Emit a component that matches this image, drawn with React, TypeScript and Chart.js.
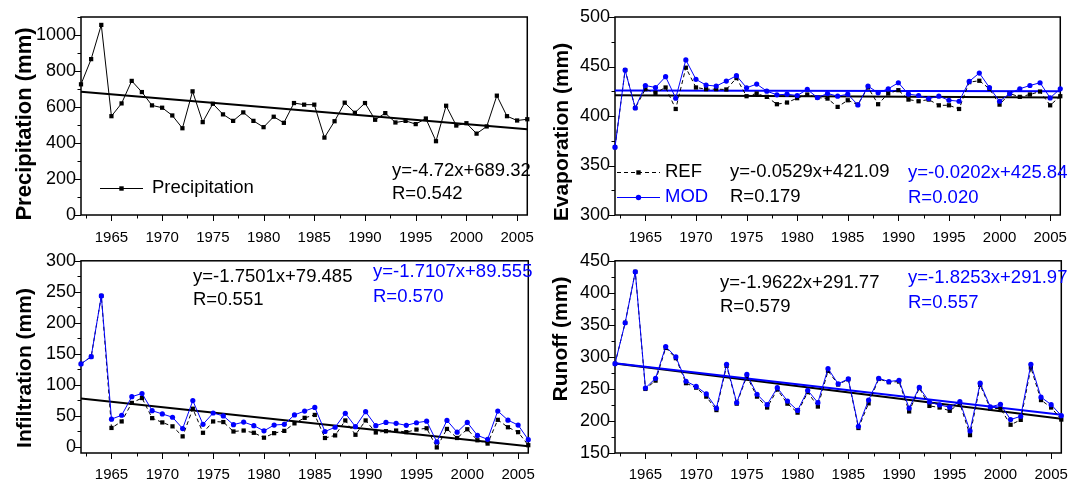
import React, { useEffect, useRef } from 'react';
import { Chart, registerables } from 'chart.js';
Chart.register(...registerables);

const BLUE = '#0000FF';
const FONT = '"Liberation Sans", Arial, sans-serif';

const years = [1962, 1963, 1964, 1965, 1966, 1967, 1968, 1969, 1970, 1971, 1972, 1973, 1974, 1975, 1976,
  1977, 1978, 1979, 1980, 1981, 1982, 1983, 1984, 1985, 1986, 1987, 1988, 1989, 1990, 1991, 1992, 1993,
  1994, 1995, 1996, 1997, 1998, 1999, 2000, 2001, 2002, 2003, 2004, 2005, 2006];

const xMajor = [1965, 1970, 1975, 1980, 1985, 1990, 1995, 2000, 2005];
const xMinor = [1962.5, 1967.5, 1972.5, 1977.5, 1982.5, 1987.5, 1992.5, 1997.5, 2002.5];

const precipitation = [726, 866, 1056, 549, 620, 745, 683, 609, 596, 553,
  482, 687, 516, 618, 559, 523, 570, 523, 488, 546,
  512, 622, 613, 613, 430, 521, 624, 568, 622, 529,
  566, 514, 523, 505, 536, 410, 607, 497, 510, 452,
  492, 663, 549, 525, 532];

const evapMOD = [368.5, 446.4, 408.1, 430.8, 428.8, 439.7, 418, 456.6, 437, 431.2,
  430.2, 435.3, 440.7, 428.5, 432.2, 425.1, 421.4, 422, 420.7, 426.8,
  418.6, 422.7, 420, 422, 411.2, 430.2, 423.4, 427.5, 433.6, 422,
  420.7, 417.6, 420, 415.9, 414.9, 434.9, 443.4, 428.8, 414.9, 422.7,
  427.5, 430.8, 433.6, 418.3, 427.5];
const evapREF = [368.5, 446.4, 408.1, 427.1, 423.4, 428.8, 407.1, 448.8, 428.8, 427.1,
  427.1, 426.8, 438.3, 420, 422.7, 419.3, 411.9, 413.6, 418, 421.7,
  418.6, 417.6, 409.2, 415.9, 411.5, 428.8, 411.9, 422.7, 426.1, 416.6,
  414.9, 416.6, 410.8, 410.8, 407.1, 434.2, 435.6, 427.5, 411.5, 422.7,
  419.3, 421.7, 424.7, 410.8, 420];

const infMOD = [133.7, 145.3, 243.4, 44.6, 50.9, 80.8, 86, 58.2, 53, 47.7,
  29.4, 74.5, 36.2, 54.5, 49.8, 35.7, 39.9, 34.1, 25.7, 35.1,
  36.2, 51.4, 57.7, 63.5, 24.7, 31.5, 54, 32.5, 56.6, 34.1,
  39.3, 37.8, 34.6, 38.8, 41.4, 7.9, 42.5, 23.6, 39.3, 18.4,
  12.1, 57.7, 43, 35.1, 11.5];
const infREF = [133.7, 145.3, 243.4, 30.4, 40.9, 70.8, 78.7, 46.2, 39.3, 33,
  16.8, 61.4, 22.6, 40.9, 39.9, 24.7, 26.2, 22.6, 14.7, 22,
  25.7, 37.8, 46.7, 51.4, 14.2, 18.4, 42.5, 19.4, 42.5, 23.1,
  25.2, 26.2, 23.6, 27.8, 29.9, -1, 28.8, 14.2, 28.3, 10.5,
  5.2, 43.5, 31.5, 23.6, 2.6];

const runMOD = [289.4, 353.2, 432.8, 251.4, 266.6, 316.2, 300, 262, 253.9, 242.2,
  219.9, 288.4, 228.6, 272.6, 241.7, 225.5, 251.9, 231.1, 216.4, 247.8,
  228.6, 281.8, 258, 265.6, 191.6, 232.6, 266.6, 261.5, 263.5, 219.9,
  252.4, 229.6, 225, 221.5, 230.1, 184.5, 259, 222, 226, 202.2,
  207.3, 288.4, 237.2, 225.5, 208.3];
const runREF = [289.4, 353.2, 432.8, 250, 263, 314, 298, 259, 252, 238,
  217, 286, 227, 270, 238, 221, 249, 227, 213, 245,
  222.5, 278.2, 256.9, 265, 189, 227.5, 265.6, 260.5, 261.5, 214.9,
  251.4, 223.5, 221, 215.9, 227.5, 177.9, 256.4, 219.4, 219.4, 194.1,
  201.7, 283.3, 232.6, 221, 202.2];

// regression coefficients [slope, intercept], x = year - 1961
const precipFit = [-4.72, 689.32];
const evapRefFit = [-0.0529, 421.09];
const evapModFit = [-0.0202, 425.84];
const infRefFit = [-1.7501, 79.485];
const runRefFit = [-1.9622, 291.77];
const runModFit = [-1.8253, 291.97];

const pts = (vals: number[]) => years.map((y, i) => ({ x: y, y: vals[i] }));
const fitLine = (c: number[]) => [years[0], years[years.length - 1]].map((y) => ({ x: y, y: c[0] * (y - 1961) + c[1] }));

const refDs = (vals: number[]) => ({
  data: pts(vals), borderColor: '#000', backgroundColor: '#000', borderWidth: 1, borderDash: [4, 3],
  pointStyle: 'rect', pointRadius: 3, pointBorderWidth: 0, clip: false,
});
const modDs = (vals: number[]) => ({
  data: pts(vals), borderColor: BLUE, backgroundColor: BLUE, borderWidth: 1,
  pointStyle: 'circle', pointRadius: 2.6, pointBorderWidth: 0, clip: false,
});
const fitDs = (c: number[], color: string) => ({
  data: fitLine(c), borderColor: color, borderWidth: 2, pointRadius: 0, clip: false,
});

type Txt = { text: string; x: number; y: number; color: string };
type Leg = { label: string; color: string; dash: number[]; style: string; y: number; x0: number; x1: number; tx: number };
type Cfg = {
  left: number; top: number; width: number; height: number;
  padL: number; padR: number; padT: number; yWidth: number; xHeight: number; xPad: number;
  title: string; titleX: number; titleY: number; titleSize: number;
  yMin: number; yMax: number; yMajor: number[]; yMinor: number[];
  datasets: any[]; texts: Txt[]; legend: Leg[];
};

const range = (a: number, b: number, s: number) => { const r: number[] = []; for (let v = a; v <= b + 1e-9; v += s) r.push(v); return r; };

const panels: Cfg[] = [
  {
    left: 0, top: 0, width: 548, height: 245, padL: 12, padR: 8, padT: 17, yWidth: 69, xHeight: 30, xPad: 14,
    title: 'Precipitation (mm)', titleX: 25, titleY: 124, titleSize: 22,
    yMin: 0, yMax: 1100, yMajor: range(0, 1000, 200), yMinor: range(100, 1100, 200),
    datasets: [
      { ...refDs(precipitation), borderDash: [] },
      fitDs(precipFit, '#000'),
    ],
    texts: [
      { text: 'y=-4.72x+689.32', x: 392, y: 171, color: '#000' },
      { text: 'R=0.542', x: 392, y: 194, color: '#000' },
    ],
    legend: [{ label: 'Precipitation', color: '#000', dash: [], style: 'rect', y: 188, x0: 100, x1: 143, tx: 152 }],
  },
  {
    left: 548, top: 0, width: 533, height: 245, padL: 1, padR: 7, padT: 17, yWidth: 66, xHeight: 30, xPad: 14,
    title: 'Evaporation (mm)', titleX: 562, titleY: 132, titleSize: 21,
    yMin: 300, yMax: 500, yMajor: range(300, 500, 50), yMinor: range(325, 475, 50),
    datasets: [modDs(evapMOD), refDs(evapREF), fitDs(evapModFit, BLUE), fitDs(evapRefFit, '#000')],
    texts: [
      { text: 'y=-0.0529x+421.09', x: 730, y: 172, color: '#000' },
      { text: 'R=0.179', x: 730, y: 197, color: '#000' },
      { text: 'y=-0.0202x+425.84', x: 908, y: 173, color: BLUE },
      { text: 'R=0.020', x: 908, y: 198, color: BLUE },
    ],
    legend: [
      { label: 'REF', color: '#000', dash: [4, 3], style: 'rect', y: 172, x0: 617, x1: 660, tx: 665 },
      { label: 'MOD', color: BLUE, dash: [], style: 'circle', y: 197, x0: 617, x1: 660, tx: 665 },
    ],
  },
  {
    left: 0, top: 245, width: 548, height: 236, padL: 12, padR: 9, padT: 11, yWidth: 69, xHeight: 28, xPad: 13,
    title: 'Infiltration (mm)', titleX: 25, titleY: 368, titleSize: 21,
    yMin: -10, yMax: 300, yMajor: range(0, 300, 50), yMinor: range(25, 275, 50),
    datasets: [modDs(infMOD), refDs(infREF), fitDs(infRefFit, '#000')],
    texts: [
      { text: 'y=-1.7501x+79.485', x: 193, y: 277, color: '#000' },
      { text: 'R=0.551', x: 193, y: 300, color: '#000' },
      { text: 'y=-1.7107x+89.555', x: 373, y: 272, color: BLUE },
      { text: 'R=0.570', x: 373, y: 297, color: BLUE },
    ],
    legend: [],
  },
  {
    left: 548, top: 245, width: 533, height: 236, padL: 1, padR: 7, padT: 11, yWidth: 66, xHeight: 28, xPad: 13,
    title: 'Runoff (mm)', titleX: 561, titleY: 339, titleSize: 21,
    yMin: 150, yMax: 450, yMajor: range(150, 450, 50), yMinor: range(175, 425, 50),
    datasets: [modDs(runMOD), refDs(runREF), fitDs(runModFit, BLUE), fitDs(runRefFit, '#000')],
    texts: [
      { text: 'y=-1.9622x+291.77', x: 720, y: 283, color: '#000' },
      { text: 'R=0.579', x: 720, y: 307, color: '#000' },
      { text: 'y=-1.8253x+291.97', x: 908, y: 278, color: BLUE },
      { text: 'R=0.557', x: 908, y: 303, color: BLUE },
    ],
    legend: [],
  },
];

function decor(cfg: Cfg) {
  return {
    id: 'decor',
    beforeDatasetsDraw(chart: any) {
      const { ctx, chartArea: ca, scales } = chart;
      const xs = scales.x, ys = scales.y;
      ctx.save();
      ctx.strokeStyle = '#000';
      ctx.lineWidth = 1;
      ctx.beginPath();
      const xt = (v: number, len: number) => { const p = Math.round(xs.getPixelForValue(v)) + 0.5; ctx.moveTo(p, ca.bottom); ctx.lineTo(p, ca.bottom + len); };
      const yt = (v: number, len: number) => { const p = Math.round(ys.getPixelForValue(v)) + 0.5; ctx.moveTo(ca.left, p); ctx.lineTo(ca.left - len, p); };
      xMajor.forEach((v) => xt(v, 6));
      xMinor.forEach((v) => xt(v, 3.5));
      cfg.yMajor.forEach((v) => yt(v, 6));
      cfg.yMinor.forEach((v) => yt(v, 3.5));
      ctx.stroke();
      ctx.lineWidth = 1.5;
      ctx.strokeRect(ca.left, ca.top, ca.right - ca.left, ca.bottom - ca.top);
      ctx.restore();
    },
    afterDraw(chart: any) {
      const { ctx } = chart;
      const ox = cfg.left, oy = cfg.top;
      ctx.save();
      ctx.save();
      ctx.translate(cfg.titleX - ox, cfg.titleY - oy);
      ctx.rotate(-Math.PI / 2);
      ctx.font = `bold ${cfg.titleSize}px ${FONT}`;
      ctx.fillStyle = '#000';
      ctx.textAlign = 'center';
      ctx.textBaseline = 'middle';
      ctx.fillText(cfg.title, 0, 0);
      ctx.restore();
      ctx.font = `18.5px ${FONT}`;
      ctx.textAlign = 'left';
      ctx.textBaseline = 'middle';
      cfg.texts.forEach((t) => { ctx.fillStyle = t.color; ctx.fillText(t.text, t.x - ox, t.y - oy); });
      cfg.legend.forEach((l) => {
        const y = l.y - oy;
        ctx.strokeStyle = l.color;
        ctx.fillStyle = l.color;
        ctx.lineWidth = 1;
        ctx.setLineDash(l.dash);
        ctx.beginPath();
        ctx.moveTo(l.x0 - ox, y + 0.5);
        ctx.lineTo(l.x1 - ox, y + 0.5);
        ctx.stroke();
        ctx.setLineDash([]);
        const cx = (l.x0 + l.x1) / 2 - ox;
        ctx.beginPath();
        if (l.style === 'rect') ctx.rect(cx - 2.2, y - 1.7, 4.4, 4.4);
        else ctx.arc(cx, y + 0.5, 2.7, 0, Math.PI * 2);
        ctx.fill();
        ctx.fillText(l.label, l.tx - ox, y);
      });
      ctx.restore();
    },
  };
}

function Panel({ cfg }: { cfg: Cfg }) {
  const ref = useRef<HTMLCanvasElement>(null);
  useEffect(() => {
    if (!ref.current) return;
    const chart = new Chart(ref.current, {
      type: 'line',
      data: { datasets: cfg.datasets as any },
      options: {
        responsive: false,
        animation: false,
        devicePixelRatio: 1,
        layout: { padding: { left: cfg.padL, right: cfg.padR, top: cfg.padT, bottom: 0 } },
        plugins: { legend: { display: false }, tooltip: { enabled: false }, title: { display: false } },
        elements: { line: { tension: 0 } },
        scales: {
          x: {
            type: 'linear', min: 1962, max: 2006,
            afterBuildTicks: (s: any) => { s.ticks = xMajor.map((v) => ({ value: v })); },
            afterFit: (s: any) => { s.height = cfg.xHeight; },
            grid: { display: false, drawTicks: false },
            border: { display: false },
            ticks: { callback: (v: any) => String(v), color: '#000', font: { family: FONT, size: 15 }, padding: cfg.xPad, maxRotation: 0, autoSkip: false },
          },
          y: {
            type: 'linear', min: cfg.yMin, max: cfg.yMax,
            afterBuildTicks: (s: any) => { s.ticks = cfg.yMajor.map((v) => ({ value: v })); },
            afterFit: (s: any) => { s.width = cfg.yWidth; },
            grid: { display: false, drawTicks: false },
            border: { display: false },
            ticks: { callback: (v: any) => String(v), color: '#000', font: { family: FONT, size: 18 }, padding: 5 },
          },
        },
      },
      plugins: [decor(cfg)],
    } as any);
    return () => chart.destroy();
  }, [cfg]);
  return (
    <canvas
      ref={ref}
      width={cfg.width}
      height={cfg.height}
      style={{ position: 'absolute', left: cfg.left, top: cfg.top, width: cfg.width, height: cfg.height, display: 'block' }}
    />
  );
}

export default function App() {
  return (
    <div style={{ position: 'fixed', left: 0, top: 0, width: 1081, height: 481, background: '#fff', overflow: 'hidden' }}>
      {panels.map((p, i) => <Panel key={i} cfg={p} />)}
    </div>
  );
}
